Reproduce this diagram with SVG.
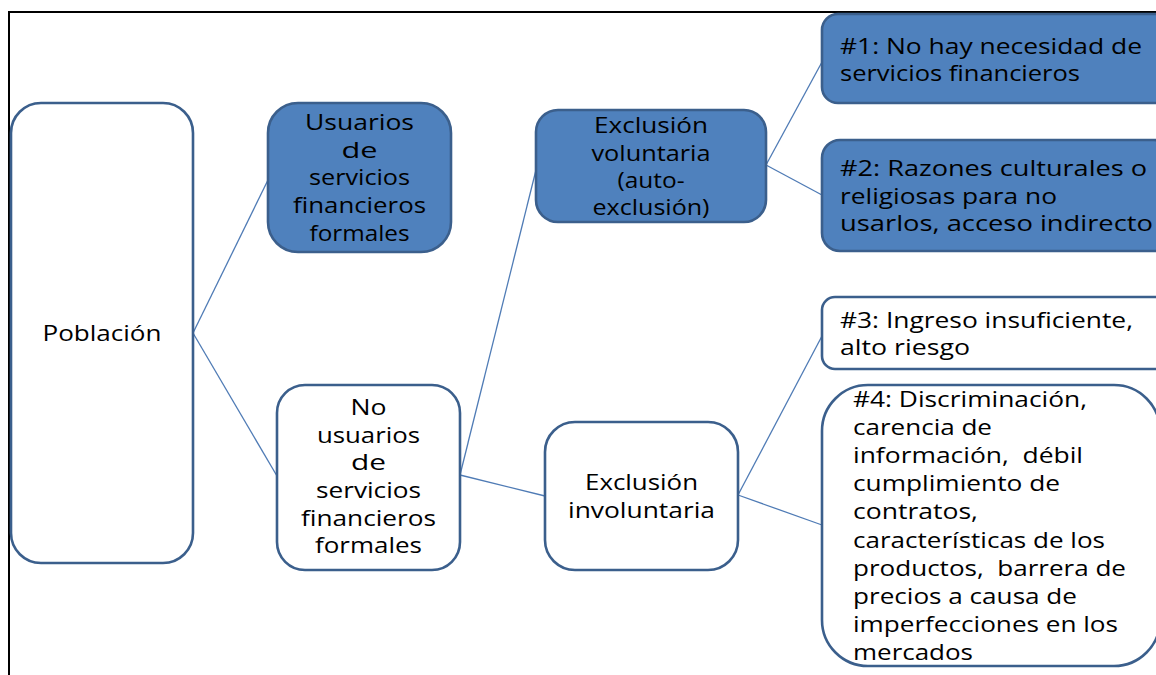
<svg xmlns="http://www.w3.org/2000/svg" width="1156" height="675" viewBox="0 0 1156 675">
  <style>
    .frame { stroke: #000; stroke-width: 2; fill: none; }
    .box { stroke: #3b5f8c; stroke-width: 2.6; }
    .blue { fill: #4f81bd; }
    .white { fill: #fff; }
    .link { stroke: #4f7bb5; stroke-width: 1.3; fill: none; }
    text { font-family: "Open Sans", "Liberation Sans", sans-serif; font-size: 21.5px; fill: #000; white-space: pre; }
    .c { text-anchor: middle; }
  </style>
  <rect width="1156" height="675" fill="#fff"/>
  <!-- outer frame: top and left edges only -->
  <path class="frame" d="M9 675 V12 H1156"/>

  <g id="connectors">
    <line class="link" x1="193" y1="333" x2="268" y2="180"/>
    <line class="link" x1="193" y1="333" x2="277" y2="476"/>
    <line class="link" x1="460" y1="475" x2="536" y2="170"/>
    <line class="link" x1="460" y1="475" x2="545" y2="496"/>
    <line class="link" x1="766" y1="165" x2="822" y2="62"/>
    <line class="link" x1="766" y1="165" x2="822" y2="195"/>
    <line class="link" x1="738" y1="495" x2="822" y2="336"/>
    <line class="link" x1="738" y1="495" x2="822" y2="525"/>
  </g>

  <g id="poblacion">
    <rect class="box white" x="11" y="103" width="182" height="460" rx="30" ry="30"/>
    <text class="c" x="102" y="341" textLength="119" lengthAdjust="spacingAndGlyphs">Población</text>
  </g>

  <g id="usuarios">
    <rect class="box blue" x="268" y="103" width="183" height="149" rx="30" ry="30"/>
    <text class="c" x="359.5" y="130" textLength="109" lengthAdjust="spacingAndGlyphs">Usuarios</text>
    <text class="c" x="359.5" y="158" textLength="36" lengthAdjust="spacingAndGlyphs">de</text>
    <text class="c" x="359.5" y="185" textLength="101" lengthAdjust="spacingAndGlyphs">servicios</text>
    <text class="c" x="359.5" y="213" textLength="133" lengthAdjust="spacingAndGlyphs">financieros</text>
    <text class="c" x="359.5" y="241" textLength="100" lengthAdjust="spacingAndGlyphs">formales</text>
  </g>

  <g id="no-usuarios">
    <rect class="box white" x="277" y="385" width="183" height="185" rx="28" ry="28"/>
    <text class="c" x="368.5" y="415" textLength="36" lengthAdjust="spacingAndGlyphs">No</text>
    <text class="c" x="368.5" y="443" textLength="103" lengthAdjust="spacingAndGlyphs">usuarios</text>
    <text class="c" x="368.5" y="470" textLength="35" lengthAdjust="spacingAndGlyphs">de</text>
    <text class="c" x="368.5" y="498" textLength="105" lengthAdjust="spacingAndGlyphs">servicios</text>
    <text class="c" x="368.5" y="526" textLength="135" lengthAdjust="spacingAndGlyphs">financieros</text>
    <text class="c" x="368.5" y="553" textLength="107" lengthAdjust="spacingAndGlyphs">formales</text>
  </g>

  <g id="exclusion-voluntaria">
    <rect class="box blue" x="536" y="110" width="230" height="112" rx="22" ry="22"/>
    <text class="c" x="651" y="133" textLength="114" lengthAdjust="spacingAndGlyphs">Exclusión</text>
    <text class="c" x="651" y="161" textLength="119" lengthAdjust="spacingAndGlyphs">voluntaria</text>
    <text class="c" x="651" y="188" textLength="67" lengthAdjust="spacingAndGlyphs">(auto-</text>
    <text class="c" x="651" y="215" textLength="117" lengthAdjust="spacingAndGlyphs">exclusión)</text>
  </g>

  <g id="exclusion-involuntaria">
    <rect class="box white" x="545" y="422" width="193" height="148" rx="30" ry="30"/>
    <text class="c" x="641.5" y="490" textLength="113" lengthAdjust="spacingAndGlyphs">Exclusión</text>
    <text class="c" x="641.5" y="518" textLength="147" lengthAdjust="spacingAndGlyphs">involuntaria</text>
  </g>

  <g id="razon-1">
    <rect class="box blue" x="822" y="14" width="350" height="89" rx="16" ry="16"/>
    <text x="840" y="54" textLength="302" lengthAdjust="spacingAndGlyphs">#1: No hay necesidad de</text>
    <text x="840" y="81" textLength="240" lengthAdjust="spacingAndGlyphs">servicios financieros</text>
  </g>

  <g id="razon-2">
    <rect class="box blue" x="822" y="140" width="350" height="111" rx="18" ry="18"/>
    <text x="840" y="176" textLength="307" lengthAdjust="spacingAndGlyphs">#2: Razones culturales o</text>
    <text x="840" y="204" textLength="217" lengthAdjust="spacingAndGlyphs">religiosas para no</text>
    <text x="840" y="231" textLength="313" lengthAdjust="spacingAndGlyphs">usarlos, acceso indirecto</text>
  </g>

  <g id="razon-3">
    <rect class="box white" x="822" y="297" width="350" height="72" rx="13" ry="13"/>
    <text x="840" y="328" textLength="293" lengthAdjust="spacingAndGlyphs">#3: Ingreso insuficiente,</text>
    <text x="840" y="355" textLength="130" lengthAdjust="spacingAndGlyphs">alto riesgo</text>
  </g>

  <g id="razon-4">
    <rect class="box white" x="822" y="385" width="338" height="281" rx="46" ry="46"/>
    <text x="853" y="407" textLength="234" lengthAdjust="spacingAndGlyphs">#4: Discriminación,</text>
    <text x="853" y="435" textLength="139" lengthAdjust="spacingAndGlyphs">carencia de</text>
    <text x="853" y="463" textLength="230" lengthAdjust="spacingAndGlyphs">información,  débil</text>
    <text x="853" y="491" textLength="207" lengthAdjust="spacingAndGlyphs">cumplimiento de</text>
    <text x="853" y="519" textLength="125" lengthAdjust="spacingAndGlyphs">contratos,</text>
    <text x="853" y="548" textLength="252" lengthAdjust="spacingAndGlyphs">características de los</text>
    <text x="853" y="576" textLength="273" lengthAdjust="spacingAndGlyphs">productos,  barrera de</text>
    <text x="853" y="604" textLength="224" lengthAdjust="spacingAndGlyphs">precios a causa de</text>
    <text x="853" y="632" textLength="265" lengthAdjust="spacingAndGlyphs">imperfecciones en los</text>
    <text x="853" y="660" textLength="120" lengthAdjust="spacingAndGlyphs">mercados</text>
  </g>
</svg>
